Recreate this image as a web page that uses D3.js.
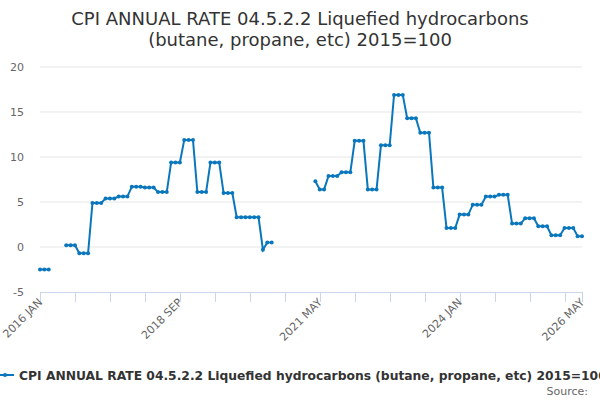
<!DOCTYPE html>
<html>
<head>
<meta charset="utf-8">
<script src="https://cdn.jsdelivr.net/npm/d3@7"></script>
<style>
  body { margin: 0; background: #fff; overflow: hidden; }
  svg { font-family: "DejaVu Sans", sans-serif; }
</style>
</head>
<body>
<script>
// monthly categories, 2016 JAN .. 2026 MAY
const monthNames = ["JAN","FEB","MAR","APR","MAY","JUN","JUL","AUG","SEP","OCT","NOV","DEC"];
const categories = [];
for (let y = 2016; y <= 2026; y++) {
  for (let m = 0; m < 12; m++) {
    if (y === 2026 && m > 4) break;
    categories.push(y + " " + monthNames[m]);
  }
}

// annual rate, null where no value was published
const values = [
  -2.5, -2.5, -2.5, null, null, null, 0.2, 0.2, 0.2, -0.7, -0.7, -0.7,   // 2016
  4.9, 4.9, 4.9, 5.4, 5.4, 5.4, 5.6, 5.6, 5.6, 6.7, 6.7, 6.7,            // 2017
  6.6, 6.6, 6.6, 6.1, 6.1, 6.1, 9.4, 9.4, 9.4, 11.9, 11.9, 11.9,         // 2018
  6.1, 6.1, 6.1, 9.4, 9.4, 9.4, 6.0, 6.0, 6.0, 3.3, 3.3, 3.3,            // 2019
  3.3, 3.3, 3.3, -0.3, 0.5, 0.5, null, null, null, null, null, null,     // 2020
  null, null, null, 7.3, 6.4, 6.4, 7.9, 7.9, 7.9, 8.3, 8.3, 8.3,         // 2021
  11.8, 11.8, 11.8, 6.4, 6.4, 6.4, 11.3, 11.3, 11.3, 16.9, 16.9, 16.9,   // 2022
  14.3, 14.3, 14.3, 12.7, 12.7, 12.7, 6.6, 6.6, 6.6, 2.1, 2.1, 2.1,      // 2023
  3.6, 3.6, 3.6, 4.7, 4.7, 4.7, 5.6, 5.6, 5.6, 5.8, 5.8, 5.8,            // 2024
  2.6, 2.6, 2.6, 3.2, 3.2, 3.2, 2.3, 2.3, 2.3, 1.3, 1.3, 1.3,            // 2025
  2.1, 2.1, 2.1, 1.2, 1.2                                                // 2026
];

const yTicks = [-5, 0, 5, 10, 15, 20];
const xTickLabels = ["2016 JAN", "2018 SEP", "2021 MAY", "2024 JAN", "2026 MAY"];
const seriesName = "CPI ANNUAL RATE 04.5.2.2 Liquefied hydrocarbons (butane, propane, etc) 2015=100";
const titleLines = ["CPI ANNUAL RATE 04.5.2.2 Liquefied hydrocarbons", "(butane, propane, etc) 2015=100"];

const width = 600, height = 400;
const color = "#0a77bd";

const svg = d3.select("body").append("svg")
  .attr("width", width)
  .attr("height", height);

const x = d3.scaleLinear().domain([0, categories.length - 1]).range([40, 582]);
const y = d3.scaleLinear().domain([-5, 20]).range([292, 67]);

// title
svg.append("g").selectAll("text")
  .data(titleLines)
  .enter().append("text")
  .attr("x", width / 2)
  .attr("y", (d, i) => 25 + i * 21)
  .attr("text-anchor", "middle")
  .style("font-size", "18px")
  .style("fill", "#333")
  .text(d => d);

// grid + y labels
const yAxis = svg.append("g");
yAxis.selectAll("line")
  .data(yTicks.filter(t => t !== -5))
  .enter().append("line")
  .attr("x1", 40).attr("x2", 582)
  .attr("y1", d => y(d)).attr("y2", d => y(d))
  .attr("stroke", "#e6e6e6");
yAxis.selectAll("text")
  .data(yTicks)
  .enter().append("text")
  .attr("x", 24)
  .attr("y", d => y(d) + 4)
  .attr("text-anchor", "end")
  .style("font-size", "11px")
  .style("fill", "#666")
  .text(d => d);

// x axis
const tickIdx = d3.range(0, categories.length, 8).concat([categories.length - 1]);
const xAxis = svg.append("g");
xAxis.append("line")
  .attr("x1", 40).attr("x2", 582)
  .attr("y1", 292.5).attr("y2", 292.5)
  .attr("stroke", "#ccd6eb");
xAxis.selectAll(".tick")
  .data(tickIdx)
  .enter().append("line")
  .attr("x1", d => Math.round(x(d)) + 0.5).attr("x2", d => Math.round(x(d)) + 0.5)
  .attr("y1", 292).attr("y2", 302)
  .attr("stroke", "#ccd6eb");
xAxis.selectAll("text")
  .data(xTickLabels)
  .enter().append("text")
  .attr("transform", d => "translate(" + (x(categories.indexOf(d)) + 3) + ",303) rotate(-45)")
  .attr("text-anchor", "end")
  .style("font-size", "11px")
  .style("fill", "#666")
  .text(d => d);

// series
const pts = values.map((v, i) => ({ i: i, v: v }));
const line = d3.line()
  .defined(d => d.v !== null)
  .x(d => x(d.i))
  .y(d => y(d.v));

svg.append("path")
  .datum(pts)
  .attr("d", line)
  .attr("fill", "none")
  .attr("stroke", color)
  .attr("stroke-width", 2);

svg.append("g").selectAll("circle")
  .data(pts.filter(d => d.v !== null))
  .enter().append("circle")
  .attr("cx", d => x(d.i))
  .attr("cy", d => y(d.v))
  .attr("r", 2)
  .attr("fill", color);

// legend
const legend = svg.append("g");
legend.append("line")
  .attr("x1", 0).attr("x2", 14)
  .attr("y1", 375).attr("y2", 375)
  .attr("stroke", color).attr("stroke-width", 2);
legend.append("circle")
  .attr("cx", 5).attr("cy", 375).attr("r", 2)
  .attr("fill", color);
legend.append("text")
  .attr("x", 19)
  .attr("y", 379.5)
  .style("font-size", "12.3px")
  .style("font-weight", "bold")
  .style("fill", "#333")
  .text(seriesName);

svg.append("text")
  .attr("x", 588)
  .attr("y", 395)
  .attr("text-anchor", "end")
  .style("font-size", "11px")
  .style("fill", "#666")
  .text("Source:");
</script>
</body>
</html>
